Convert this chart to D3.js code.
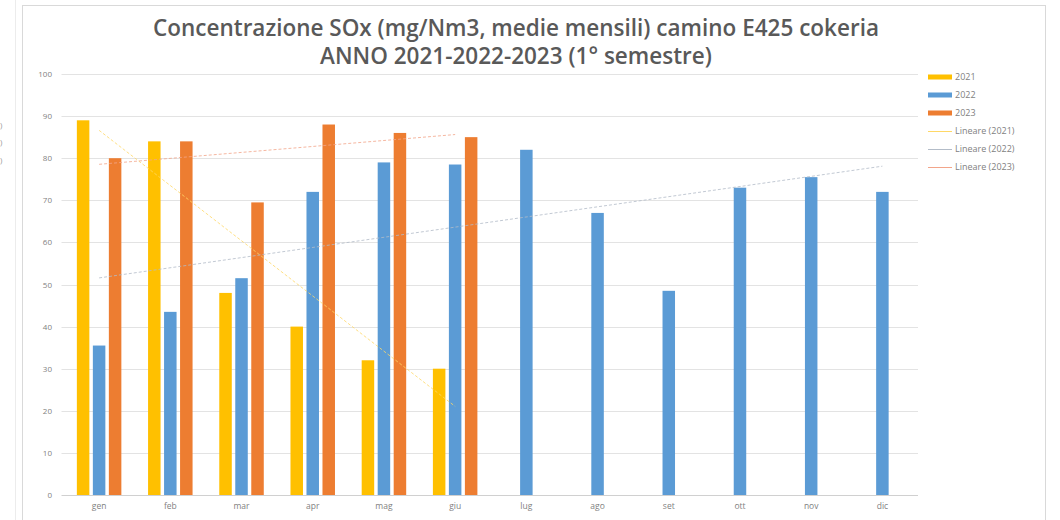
<!DOCTYPE html>
<html>
<head>
<meta charset="utf-8">
<script src="https://cdn.jsdelivr.net/npm/d3@7"></script>
<style>
  html, body { margin: 0; padding: 0; background: #fff; }
  svg { display: block; }
</style>
</head>
<body>
<svg id="chart" width="1060" height="520"></svg>
<script>
// ---- data ----
const months = ["gen","feb","mar","apr","mag","giu","lug","ago","set","ott","nov","dic"];
const years = ["2021","2022","2023"];
const values2021 = [89, 84, 48, 40, 32, 30];
const values2022 = [35.5, 43.5, 51.5, 72, 79, 78.5, 82, 67, 48.5, 73, 75.5, 72];
const values2023 = [80, 84, 69.5, 88, 86, 85];
const yTicks = [0, 10, 20, 30, 40, 50, 60, 70, 80, 90, 100];
const titleLines = ["Concentrazione SOx (mg/Nm3, medie mensili) camino E425 cokeria",
                    "ANNO 2021-2022-2023 (1° semestre)"];
const trendLabels = ["Lineare (2021)", "Lineare (2022)", "Lineare (2023)"];

// ---- styles ----
const colors = { "2021": "#FFC000", "2022": "#5B9BD5", "2023": "#ED7D31" };
const seriesData = { "2021": values2021, "2022": values2022, "2023": values2023 };
const font = "'Open Sans', 'Liberation Sans', sans-serif";

const svg = d3.select("#chart");

// frame lines (screenshot borders)
svg.append("rect").attr("x", 22.5).attr("y", 5.5).attr("width", 1023).attr("height", 520)
  .attr("fill", "#fff").attr("stroke", "#d9d9d9").attr("stroke-width", 1);
svg.append("line").attr("x1", 15.5).attr("x2", 15.5).attr("y1", 0).attr("y2", 520)
  .attr("stroke", "#ececec");
// cropped fragments from the neighbouring chart
[128, 145, 163].forEach(y => {
  svg.append("text").attr("x", 0).attr("y", y).attr("font-size", 8).attr("fill", "#999")
    .attr("font-family", font).text(")");
});

const plot = { left: 63.5, right: 918, top: 74, bottom: 495 };

const x = d3.scaleBand().domain(months).range([plot.left, plot.right]).paddingInner(0).paddingOuter(0);
const y = d3.scaleLinear().domain([0, 100]).range([plot.bottom, plot.top]);

// gridlines
svg.append("g").selectAll("line").data(yTicks).join("line")
  .attr("x1", plot.left - 2).attr("x2", plot.right)
  .attr("y1", d => Math.round(y(d)) + 0.5).attr("y2", d => Math.round(y(d)) + 0.5)
  .attr("stroke", d => d === 0 ? "#d0d0d0" : "#e3e3e3").attr("stroke-width", 1);

// y axis labels
const yAxis = d3.axisLeft(y).tickValues(yTicks).tickSize(0).tickPadding(0);
const gy = svg.append("g").attr("transform", `translate(52,0)`).call(yAxis);
gy.select(".domain").remove();
gy.selectAll("text").attr("font-family", font).attr("font-size", 8).attr("fill", "#7f7f7f");

// x axis labels
const xAxis = d3.axisBottom(x).tickSize(0).tickPadding(0);
const gx = svg.append("g").attr("transform", `translate(0,${plot.bottom + 8})`).call(xAxis);
gx.select(".domain").remove();
gx.selectAll("text").attr("font-family", font).attr("font-size", 8.5).attr("fill", "#7f7f7f");

// bars
const barW = 12.5;
const offsets = { "2021": -16, "2022": 0, "2023": 16 };
years.forEach(yr => {
  const vals = seriesData[yr];
  svg.append("g").selectAll("rect").data(vals.map((v, i) => ({ m: months[i], v })))
    .join("rect")
    .attr("x", d => x(d.m) + x.bandwidth() / 2 + offsets[yr] - barW / 2)
    .attr("width", barW)
    .attr("y", d => y(d.v))
    .attr("height", d => y(0) - y(d.v))
    .attr("fill", colors[yr]);
});

// linear trendlines (least squares, as the spreadsheet does)
function linFit(vals) {
  const n = vals.length;
  const xs = vals.map((_, i) => i + 1);
  const mx = d3.mean(xs), my = d3.mean(vals);
  let sxy = 0, sxx = 0;
  xs.forEach((xi, i) => { sxy += (xi - mx) * (vals[i] - my); sxx += (xi - mx) * (xi - mx); });
  const b = sxy / sxx, a = my - b * mx;
  return [[1, a + b], [n, a + b * n]];
}
const trendColors = { "2021": "#FFD866", "2022": "#b3bcc8", "2023": "#f2a58a" };
years.forEach(yr => {
  const pts = linFit(seriesData[yr]);
  const line = d3.line()
    .x(p => x(months[p[0] - 1]) + x.bandwidth() / 2)
    .y(p => y(p[1]));
  svg.append("path").attr("d", line(pts)).attr("fill", "none")
    .attr("stroke", trendColors[yr]).attr("stroke-width", 1)
    .attr("stroke-dasharray", "3,2").attr("opacity", 0.8);
});

// title
const title = svg.append("g");
titleLines.forEach((t, i) => {
  title.append("text").attr("x", 516).attr("y", 36 + i * 28)
    .attr("text-anchor", "middle").attr("font-family", font).attr("font-weight", 600)
    .attr("font-size", 19).attr("fill", "#595959").text(t);
});
// fit first title line to its measured width
const t0 = title.select("text").node();
const w0 = t0.getComputedTextLength();
const fs = 19 * 726 / w0;
title.selectAll("text").attr("font-size", fs);

// legend
const leg = svg.append("g").attr("font-family", font).attr("font-size", 9).attr("fill", "#7f7f7f");
years.forEach((yr, i) => {
  const yy = 77 + i * 18;
  leg.append("rect").attr("x", 928).attr("y", yy - 2.5).attr("width", 24).attr("height", 5)
    .attr("fill", colors[yr]);
  leg.append("text").attr("x", 955).attr("y", yy + 3).text(yr);
});
trendLabels.forEach((lab, i) => {
  const yy = 131 + i * 18;
  leg.append("line").attr("x1", 928).attr("x2", 952).attr("y1", yy + 0.5).attr("y2", yy + 0.5)
    .attr("stroke", trendColors[years[i]]).attr("stroke-width", 1);
  leg.append("text").attr("x", 955).attr("y", yy + 3).text(lab);
});
</script>
</body>
</html>
